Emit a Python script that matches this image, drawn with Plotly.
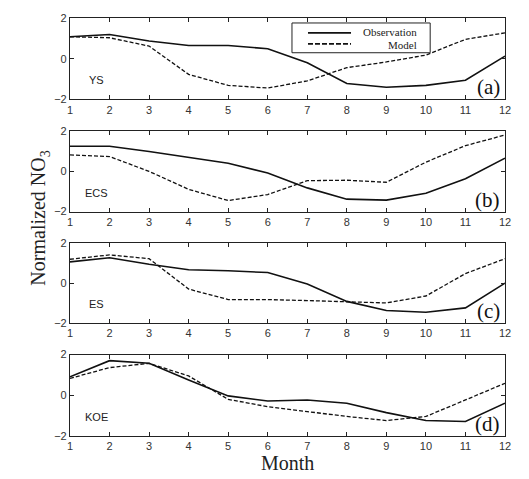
import plotly.graph_objects as go

months = list(range(1, 13))
regions = ["YS", "ECS", "ES", "KOE"]
panel_tags = ["(a)", "(b)", "(c)", "(d)"]
series_names = ["Observation", "Model"]

obs_ys = [1.08, 1.19, 0.87, 0.65, 0.65, 0.49, -0.20, -1.22, -1.40, -1.31, -1.06, 0.13]
mod_ys = [1.08, 1.03, 0.62, -0.77, -1.31, -1.44, -1.09, -0.44, -0.16, 0.18, 0.95, 1.27]

obs_ecs = [1.25, 1.25, 0.99, 0.69, 0.41, -0.08, -0.82, -1.38, -1.43, -1.09, -0.36, 0.66]
mod_ecs = [0.82, 0.74, 0.00, -0.89, -1.45, -1.15, -0.46, -0.44, -0.54, 0.46, 1.28, 1.81]

obs_es = [1.07, 1.28, 0.95, 0.67, 0.62, 0.53, -0.05, -0.92, -1.38, -1.47, -1.25, 0.00]
mod_es = [1.20, 1.42, 1.23, -0.30, -0.83, -0.83, -0.88, -0.93, -1.00, -0.65, 0.48, 1.23]

obs_koe = [0.91, 1.70, 1.57, 0.75, -0.03, -0.28, -0.23, -0.39, -0.85, -1.24, -1.29, -0.39]
mod_koe = [0.83, 1.36, 1.57, 0.95, -0.20, -0.56, -0.80, -1.04, -1.24, -1.04, -0.23, 0.59]

obs_all = [obs_ys, obs_ecs, obs_es, obs_koe]
mod_all = [mod_ys, mod_ecs, mod_es, mod_koe]

x_ticks = months
y_ticks = [-2, 0, 2]

domains = [[0.8052, 1.0], [0.5368, 0.7292], [0.2708, 0.4608], [0.0, 0.1948]]

SANS = "Liberation Sans, Arial, sans-serif"
SERIF = "Liberation Serif, Times New Roman, serif"
OBS_LINE = dict(color="#111111", width=1.6)
MOD_LINE = dict(color="#111111", width=1.3, dash="4px,2px")

fig = go.Figure()
layout = dict(
    width=529, height=479,
    margin=dict(l=70, r=24, t=15, b=43),
    plot_bgcolor="white", paper_bgcolor="white",
    showlegend=False,
    annotations=[], shapes=[],
)

for i in range(4):
    xa = "x" if i == 0 else f"x{i+1}"
    ya = "y" if i == 0 else f"y{i+1}"
    fig.add_trace(go.Scatter(
        x=months, y=obs_all[i], mode="lines", xaxis=xa, yaxis=ya,
        line=OBS_LINE, name=series_names[0],
    ))
    fig.add_trace(go.Scatter(
        x=months, y=mod_all[i], mode="lines", xaxis=xa, yaxis=ya,
        line=MOD_LINE, name=series_names[1],
    ))
    axcommon = dict(
        showline=True, linecolor="#222222", linewidth=1.2, mirror="ticks",
        ticks="inside", ticklen=4, tickwidth=1, tickcolor="#222222",
        showgrid=False, zeroline=False,
        tickfont=dict(family=SANS, size=11, color="#333333"),
    )
    xkey = "xaxis" if i == 0 else f"xaxis{i+1}"
    ykey = "yaxis" if i == 0 else f"yaxis{i+1}"
    layout[xkey] = dict(axcommon, range=[1, 12], tickvals=x_ticks, anchor=ya, domain=[0, 1])
    layout[ykey] = dict(axcommon, range=[-2, 2], tickvals=y_ticks, anchor=xa, domain=domains[i])
    layout["annotations"].append(dict(
        x=1.68, y=-1.07, xref=xa, yref=ya, text=regions[i], showarrow=False,
        font=dict(family=SANS, size=11, color="#222222"),
    ))
    layout["annotations"].append(dict(
        x=12, y=-2, xref=xa, yref=ya, text=panel_tags[i], showarrow=False,
        xanchor="right", yanchor="bottom", xshift=-3, yshift=-2,
        font=dict(family=SERIF, size=21, color="#111111"),
    ))

layout["annotations"].append(dict(
    x=0, y=0.52, xref="paper", yref="paper", text="Normalized NO<sub>3</sub>",
    xanchor="center", yanchor="middle", xshift=-30,
    textangle=-90, showarrow=False, font=dict(family=SERIF, size=20, color="#222222"),
))
layout["annotations"].append(dict(
    x=0.5, y=-0.065, xref="paper", yref="paper", text="Month", yanchor="middle",
    showarrow=False, font=dict(family=SERIF, size=20, color="#222222"),
))

# legend box drawn by hand
layout["shapes"].append(dict(
    type="rect", xref="paper", yref="paper", x0=0.5103, x1=0.828, y0=0.9169, y1=0.9881,
    line=dict(color="#222222", width=1), fillcolor="white", layer="above",
))
layout["shapes"].append(dict(
    type="line", xref="paper", yref="paper", x0=0.5471, x1=0.6460, y0=0.9644, y1=0.9644,
    line=OBS_LINE, layer="above",
))
layout["shapes"].append(dict(
    type="line", xref="paper", yref="paper", x0=0.5471, x1=0.6460, y0=0.9382, y1=0.9382,
    line=dict(color="#111111", width=1.6, dash="5px,2px"), layer="above",
))
layout["annotations"].append(dict(
    x=0.8023, y=0.9667, xref="paper", yref="paper", text=series_names[0],
    xanchor="right", yanchor="middle", showarrow=False,
    font=dict(family=SERIF, size=11, color="#222222"),
))
layout["annotations"].append(dict(
    x=0.8023, y=0.9359, xref="paper", yref="paper", text=series_names[1],
    xanchor="right", yanchor="middle", showarrow=False,
    font=dict(family=SERIF, size=11, color="#222222"),
))

fig.update_layout(**layout)
fig.write_html("out.html")
